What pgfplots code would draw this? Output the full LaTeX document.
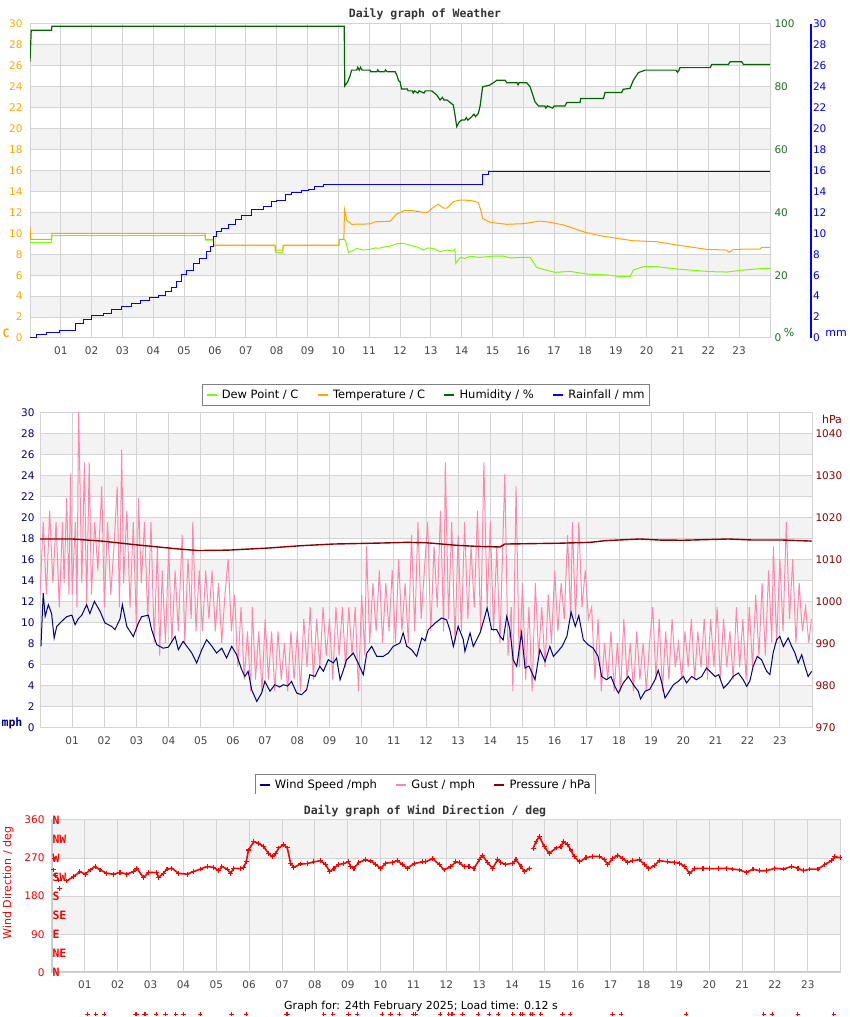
\documentclass[border=0pt]{standalone}
\usepackage{fontspec}
\setmainfont{DejaVu Sans}
\newfontfamily\titlefont{DejaVu Sans Mono}
\usepackage{pgfplots}
\pgfplotsset{compat=1.18}
\definecolor{tempc}{HTML}{FFA500}
\definecolor{dewc}{HTML}{7CFC00}
\definecolor{humc}{HTML}{006400}
\definecolor{humt}{HTML}{1E6E1E}
\definecolor{rainc}{HTML}{0000FF}
\definecolor{windc}{HTML}{000080}
\definecolor{gustc}{HTML}{FF88AA}
\definecolor{presc}{HTML}{8B0000}
\definecolor{dirc}{HTML}{FF0000}
\definecolor{band}{HTML}{F3F3F3}
\definecolor{gridc}{HTML}{D3D3D3}
\definecolor{edgec}{HTML}{C8C8C8}
\definecolor{ticktxt}{HTML}{444444}
\definecolor{titlec}{HTML}{333333}
\pgfplotsset{
  base/.style={scale only axis, anchor=south west, xmin=0, xmax=24,
    /pgf/number format/assume math mode=true,
    /pgf/number format/1000 sep={},
    tick label style={font=\fontsize{10.5}{12}\selectfont},
    major tick length=0pt},
  bg/.style={base, axis on top, grid=major, grid style={gridc, line width=1pt},
    axis line style={gridc, line width=1pt},
    xtick={1,...,23},
    xticklabels={01,02,03,04,05,06,07,08,09,10,11,12,13,14,15,16,17,18,19,20,21,22,23},
    xticklabel style={text=ticktxt, yshift=-5pt}},
  lg/.style={legend columns=-1, legend cell align=left,
    legend style={draw=gray, line width=0.8pt, fill=white, inner xsep=3pt, inner ysep=3pt,
      font=\fontsize{11.5}{13}\selectfont,
      /tikz/every odd column/.append style={column sep=2pt},
      /tikz/every even column/.append style={column sep=16pt}},
    legend image code/.code={\draw[##1, line width=2.5pt] (0pt,0pt) -- (10pt,0pt);}}
}
\begin{document}
\begin{tikzpicture}[x=1pt,y=1pt]
\path[use as bounding box] (0,0) rectangle (850,1017);
% titles and free text
\node[font=\titlefont\bfseries\fontsize{11.5}{13}\selectfont, text=titlec, anchor=base] at (425,999.5) {Daily graph of Weather};
\node[font=\titlefont\bfseries\fontsize{11.5}{13}\selectfont, text=titlec, anchor=base] at (425,202.7) {Daily graph of Wind Direction / deg};
\node[font=\fontsize{11}{13}\selectfont, anchor=base] at (421,8) {Graph for: 24th February 2025; Load time: 0.12 s};
\node[font=\titlefont\bfseries\fontsize{11.5}{13}\selectfont, text=tempc] at (6,684) {C};
\node[font=\fontsize{11}{13}\selectfont, text=humt] at (789,684) {\%};
\node[font=\fontsize{11}{13}\selectfont, text=rainc, anchor=base] at (836,680) {mm};
\node[font=\titlefont\bfseries\fontsize{11.5}{13}\selectfont, text=windc] at (12,294) {mph};
\node[font=\fontsize{11}{13}\selectfont, text=presc] at (832,598) {hPa};

% ================= PANEL 1 =================
\begin{axis}[bg, at={(30pt,679pt)}, width=740pt, height=314pt, ymin=0, ymax=30,
  ytick={0,2,...,30}, yticklabel style={text=tempc, xshift=-4pt}]
\fill[band] (axis cs:0,2) rectangle (axis cs:24,4);
\fill[band] (axis cs:0,6) rectangle (axis cs:24,8);
\fill[band] (axis cs:0,10) rectangle (axis cs:24,12);
\fill[band] (axis cs:0,14) rectangle (axis cs:24,16);
\fill[band] (axis cs:0,18) rectangle (axis cs:24,20);
\fill[band] (axis cs:0,22) rectangle (axis cs:24,24);
\fill[band] (axis cs:0,26) rectangle (axis cs:24,28);
\draw[edgec, line width=2.5pt] (rel axis cs:0,0) -- (rel axis cs:0,1);
\draw[edgec, line width=2pt] (rel axis cs:0,0) -- (rel axis cs:1,0);
\end{axis}
\begin{axis}[base, hide axis, at={(30pt,679pt)}, width=740pt, height=314pt, ymin=0, ymax=30]
\addplot[dewc, line width=1pt] coordinates {(0,9.1) (0.70,9.1) (0.71,9.77) (5.68,9.77) (5.69,9.36) (5.95,9.36) (5.96,8.82) (7.95,8.82) (7.96,8.18) (8.20,8.18) (8.21,8.82) (10.02,8.82) (10.03,9.43) (10.20,9.43) (10.24,9.2) (10.33,8.18) (10.43,8.3) (10.6,8.56) (10.8,8.4) (11.03,8.47) (11.2,8.6) (11.35,8.59) (11.5,8.7) (11.68,8.78) (11.89,9.0) (12.11,9.05) (12.33,8.85) (12.55,8.7) (12.76,8.4) (12.9,8.6) (13.08,8.56) (13.3,8.24) (13.5,8.4) (13.73,8.3) (13.78,8.5) (13.81,7.13) (13.95,7.7) (14.1,7.6) (14.27,7.8) (14.6,7.7) (15.03,7.82) (15.35,7.82) (15.6,7.65) (16.0,7.7) (16.22,7.7) (16.43,6.75) (16.65,6.56) (17.03,6.27) (17.51,6.37) (18.06,6.11) (18.71,6.02) (19.14,5.86) (19.46,5.86) (19.57,6.5) (19.89,6.81) (20.33,6.81) (20.98,6.59) (22.06,6.34) (22.6,6.3) (23.14,6.5) (23.79,6.65) (24,6.65)};
\addplot[tempc, line width=1pt] coordinates {(0,10.6) (0.02,9.43) (0.70,9.43) (0.71,10.0) (5.68,10.0) (5.69,9.43) (5.95,9.43) (5.96,8.88) (7.95,8.88) (7.96,8.4) (8.20,8.4) (8.21,8.88) (10.02,8.88) (10.03,9.43) (10.18,9.43) (10.20,12.29) (10.27,11.27) (10.43,10.86) (11.03,10.9) (11.19,11.1) (11.68,11.15) (11.89,11.84) (12.16,12.2) (12.33,12.2) (12.54,12.1) (12.87,11.97) (13.08,12.48) (13.24,12.77) (13.41,12.4) (13.52,12.4) (13.73,13.02) (13.95,13.18) (14.27,13.15) (14.54,12.96) (14.62,12.2) (14.68,11.43) (14.92,11.05) (15.46,10.86) (16.0,10.92) (16.54,11.17) (16.87,11.05) (17.3,10.8) (17.62,10.48) (18.0,10.1) (18.38,9.84) (19.03,9.52) (19.57,9.29) (20.33,9.2) (20.98,8.88) (21.95,8.47) (22.6,8.4) (22.67,8.18) (22.81,8.47) (23.68,8.5) (23.73,8.66) (24,8.66)};
\end{axis}
\begin{axis}[base, hide axis, at={(30pt,679pt)}, width=740pt, height=314pt, ymin=0, ymax=100]
\addplot[humc, line width=1.2pt] coordinates {(0,88) (0.04,98) (0.70,98) (0.71,99.3) (10.19,99.3) (10.21,80.3) (10.30,81.5) (10.38,83.5) (10.43,85.3) (10.60,85.3) (10.63,86.2) (10.68,85.3) (10.72,86.2) (10.77,85.3) (11.03,85.3) (11.05,84.8) (11.25,84.8) (11.28,85.4) (11.32,84.8) (11.50,84.8) (11.53,85.4) (11.58,84.8) (11.84,84.8) (11.90,83.7) (11.95,82.0) (12.00,81.6) (12.05,79.3) (12.24,79.3) (12.26,78.7) (12.40,78.7) (12.43,78.0) (12.47,78.7) (12.58,78.0) (12.62,78.7) (12.78,78.0) (12.82,78.7) (13.03,78.7) (13.19,77.4) (13.30,75.8) (13.38,76.6) (13.42,75.8) (13.52,75.8) (13.73,74.2) (13.80,70.0) (13.84,67.3) (13.92,68.8) (14.00,69.4) (14.10,69.4) (14.15,70.2) (14.20,69.4) (14.33,70.5) (14.40,71.3) (14.45,70.5) (14.54,71.5) (14.60,74.0) (14.68,80.0) (14.90,80.5) (15.08,81.6) (15.14,82.1) (15.41,82.1) (15.46,81.3) (15.80,81.3) (15.83,80.6) (15.86,81.3) (16.11,81.3) (16.22,80.0) (16.38,75.2) (16.49,73.9) (16.70,73.9) (16.73,73.2) (16.78,73.9) (16.95,73.2) (17.00,73.9) (17.35,73.9) (17.41,75.0) (17.84,75.0) (17.86,76.3) (18.60,76.3) (18.65,78.2) (19.19,78.2) (19.24,79.2) (19.46,79.5) (19.57,82.1) (19.73,84.5) (19.95,85.3) (20.95,85.3) (21.00,84.6) (21.05,85.3) (21.08,86.1) (22.06,86.1) (22.11,87.1) (22.65,87.1) (22.71,88.0) (23.08,88.0) (23.14,87.1) (24,87.1)};
\end{axis}
\begin{axis}[base, hide axis, at={(30pt,679pt)}, width=740pt, height=314pt, ymin=0, ymax=30]
\addplot[rainc, line width=1pt, const plot] coordinates {(0,0.07) (0.22,0.29) (0.54,0.54) (0.97,0.76) (1.46,1.4) (1.73,1.72) (2.0,2.13) (2.38,2.35) (2.65,2.74) (2.97,2.99) (3.3,3.31) (3.57,3.56) (3.89,3.88) (4.16,4.04) (4.38,4.43) (4.6,4.84) (4.76,5.38) (4.92,6.02) (5.08,6.49) (5.3,7.13) (5.51,7.61) (5.73,8.24) (5.84,8.72) (5.95,9.68) (6.06,10.16) (6.22,10.48) (6.43,10.89) (6.65,11.34) (6.87,11.75) (7.19,12.23) (7.57,12.54) (7.84,13.02) (8.0,13.18) (8.29,13.72) (8.49,13.91) (8.81,14.07) (9.03,14.23) (9.24,14.45) (9.51,14.68) (14.6,14.68) (14.68,15.66) (14.87,15.93) (24,15.93)};
\end{axis}
% humidity labels
\begin{axis}[base, at={(30pt,679pt)}, width=740pt, height=314pt, ymin=0, ymax=100,
  hide x axis, axis y line*=right, y axis line style={draw=none},
  ytick={0,20,...,100}, yticklabel style={text=humt, xshift=1pt}]
\addplot[draw=none] coordinates {(0,0)};
\end{axis}
% rainfall labels + legend 1
\begin{axis}[base, lg, at={(30pt,679pt)}, width=781pt, height=314pt, ymin=0, ymax=30,
  hide x axis, axis y line*=right, y axis line style={rainc, line width=1.2pt},
  ytick={0,2,...,30}, yticklabel style={text=rainc, xshift=-1.5pt},
  legend style={at={(axis description cs:0.507,-0.1815)}, anchor=center}]
\addlegendimage{dewc}\addlegendentry{Dew Point / C}
\addlegendimage{tempc}\addlegendentry{Temperature / C}
\addlegendimage{humc}\addlegendentry{Humidity / \%}
\addlegendimage{rainc}\addlegendentry{Rainfall / mm}
\end{axis}

% ================= PANEL 2 =================
\begin{axis}[bg, at={(40pt,289pt)}, width=772pt, height=315pt, ymin=0, ymax=30,
  ytick={0,2,...,30}, yticklabel style={text=windc, xshift=-2pt}]
\fill[band] (axis cs:0,2) rectangle (axis cs:24,4);
\fill[band] (axis cs:0,6) rectangle (axis cs:24,8);
\fill[band] (axis cs:0,10) rectangle (axis cs:24,12);
\fill[band] (axis cs:0,14) rectangle (axis cs:24,16);
\fill[band] (axis cs:0,18) rectangle (axis cs:24,20);
\fill[band] (axis cs:0,22) rectangle (axis cs:24,24);
\fill[band] (axis cs:0,26) rectangle (axis cs:24,28);
\draw[edgec, line width=2.5pt] (rel axis cs:0,0) -- (rel axis cs:0,1);
\draw[edgec, line width=2pt] (rel axis cs:0,0) -- (rel axis cs:1,0);
\end{axis}
\begin{axis}[base, hide axis, at={(40pt,289pt)}, width=772pt, height=315pt, ymin=0, ymax=30]
\addplot[gustc, line width=1pt] coordinates {(0.0,12.7) (0.1,19.6) (0.2,12.7) (0.3,20.7) (0.4,13.8) (0.5,19.6) (0.6,11.5) (0.7,19.6) (0.75,13.8) (0.83,21.9) (0.9,12.7) (0.95,24.2) (1.0,12.7) (1.1,19.6) (1.15,11.5) (1.2,30.5) (1.3,13.8) (1.38,25.3) (1.45,11.5) (1.53,25.3) (1.6,12.7) (1.7,19.6) (1.8,15.0) (1.92,23.0) (2.0,11.5) (2.1,19.6) (2.2,12.7) (2.3,17.3) (2.4,23.0) (2.47,11.5) (2.54,26.5) (2.6,13.8) (2.7,20.7) (2.8,11.5) (2.9,19.6) (3.0,9.2) (3.06,21.9) (3.15,13.8) (3.25,19.6) (3.35,10.4) (3.45,19.6) (3.55,8.1) (3.65,17.3) (3.72,6.9) (3.8,15.0) (3.9,8.1) (4.0,17.3) (4.1,8.1) (4.2,15.0) (4.3,9.2) (4.42,18.4) (4.5,8.1) (4.6,16.1) (4.7,10.4) (4.75,19.6) (4.85,9.2) (4.95,15.0) (5.05,9.2) (5.15,15.0) (5.25,10.4) (5.35,15.0) (5.45,9.2) (5.55,13.8) (5.65,8.1) (5.75,12.7) (5.85,16.1) (5.95,9.2) (6.05,12.7) (6.15,5.8) (6.25,11.5) (6.35,4.6) (6.45,9.2) (6.55,3.5) (6.6,11.5) (6.7,4.6) (6.8,9.2) (6.9,3.5) (7.0,10.4) (7.1,4.6) (7.2,9.2) (7.3,3.5) (7.4,9.2) (7.5,4.6) (7.6,8.1) (7.7,3.5) (7.8,9.2) (7.9,4.6) (8.0,9.2) (8.1,3.5) (8.2,10.4) (8.3,5.8) (8.4,11.5) (8.5,4.6) (8.6,10.4) (8.7,5.8) (8.8,11.5) (8.9,6.9) (9.0,10.4) (9.1,4.6) (9.2,11.5) (9.3,6.9) (9.4,11.5) (9.5,5.8) (9.6,11.5) (9.7,6.9) (9.8,11.5) (9.9,3.5) (10.0,12.7) (10.1,6.9) (10.15,17.3) (10.25,8.1) (10.35,13.8) (10.45,9.2) (10.55,15.0) (10.65,8.1) (10.75,13.8) (10.85,9.2) (10.95,15.0) (11.05,8.1) (11.15,16.1) (11.25,9.2) (11.35,13.8) (11.45,8.1) (11.55,18.4) (11.65,9.2) (11.75,19.6) (11.85,10.4) (11.95,15.0) (12.05,19.6) (12.15,9.2) (12.25,17.3) (12.35,11.5) (12.45,20.7) (12.55,9.2) (12.6,25.3) (12.7,10.4) (12.8,19.6) (12.9,8.1) (13.0,18.4) (13.1,9.2) (13.2,19.6) (13.3,10.4) (13.4,17.3) (13.5,11.5) (13.6,20.7) (13.7,9.2) (13.8,25.3) (13.9,11.5) (14.0,19.6) (14.1,9.2) (14.2,17.3) (14.3,8.1) (14.45,24.2) (14.55,6.9) (14.65,11.5) (14.7,3.5) (14.8,23.0) (14.9,5.8) (15.0,13.8) (15.1,4.6) (15.2,11.5) (15.3,3.5) (15.4,13.8) (15.5,6.9) (15.6,11.5) (15.7,5.8) (15.8,12.7) (15.9,8.1) (16.0,15.0) (16.1,9.2) (16.2,13.8) (16.3,10.4) (16.4,18.4) (16.5,10.4) (16.55,19.6) (16.65,10.4) (16.75,19.6) (16.85,11.5) (16.95,15.0) (17.05,10.4) (17.15,11.5) (17.25,4.6) (17.35,10.4) (17.45,3.5) (17.55,8.1) (17.65,4.6) (17.75,9.2) (17.85,3.5) (17.95,8.1) (18.05,3.5) (18.15,10.4) (18.25,4.6) (18.35,8.1) (18.45,3.5) (18.55,9.2) (18.65,4.6) (18.75,8.1) (18.85,3.5) (18.95,8.1) (19.05,11.5) (19.15,4.6) (19.25,10.4) (19.35,3.5) (19.45,9.2) (19.55,4.6) (19.65,10.4) (19.75,5.8) (19.85,8.1) (19.95,4.6) (20.05,9.2) (20.15,5.8) (20.25,10.4) (20.35,4.6) (20.45,9.2) (20.55,5.8) (20.65,10.4) (20.75,4.6) (20.85,10.4) (20.95,5.8) (21.05,11.5) (21.15,4.6) (21.25,10.4) (21.35,5.8) (21.45,9.2) (21.55,4.6) (21.65,11.5) (21.75,5.8) (21.85,10.4) (21.95,4.6) (22.05,11.5) (22.15,5.8) (22.25,12.7) (22.35,6.9) (22.45,13.8) (22.55,6.9) (22.65,15.0) (22.75,8.1) (22.8,17.3) (22.9,8.1) (23.0,16.1) (23.1,9.2) (23.2,19.6) (23.3,10.4) (23.4,16.1) (23.5,8.1) (23.6,13.8) (23.7,9.2) (23.8,11.5) (23.9,8.1) (23.98,10.4)};
\addplot[windc, line width=1pt] coordinates {(0.03,7.77) (0.10,12.86) (0.16,10.63) (0.26,11.74) (0.36,10.9) (0.44,8.57) (0.52,9.67) (0.67,10.15) (0.83,10.6) (0.99,10.75) (1.09,9.84) (1.19,10.4) (1.30,10.75) (1.45,11.74) (1.55,10.9) (1.69,12.06) (1.87,11.1) (2.02,10.0) (2.23,9.67) (2.33,9.36) (2.49,10.4) (2.56,11.74) (2.70,9.67) (2.90,8.72) (3.06,10.0) (3.16,10.6) (3.37,10.75) (3.47,9.36) (3.63,7.93) (3.83,7.6) (3.99,7.7) (4.20,8.72) (4.30,7.46) (4.45,8.25) (4.72,7.14) (4.87,6.19) (5.03,7.46) (5.18,8.41) (5.34,7.8) (5.49,7.14) (5.65,7.6) (5.80,6.67) (5.96,7.77) (6.11,7.0) (6.27,5.55) (6.37,4.91) (6.47,5.4) (6.58,3.65) (6.74,2.53) (6.89,3.33) (6.99,4.44) (7.15,3.5) (7.30,4.12) (7.45,3.9) (7.56,4.12) (7.70,4.0) (7.82,4.44) (7.98,3.33) (8.13,3.17) (8.29,3.65) (8.39,5.08) (8.55,4.9) (8.70,5.87) (8.81,5.4) (8.96,6.5) (9.12,6.2) (9.22,6.66) (9.33,4.6) (9.43,5.5) (9.53,6.5) (9.74,7.14) (9.89,6.18) (10.05,5.08) (10.16,7.14) (10.31,7.77) (10.47,6.82) (10.67,6.82) (10.83,7.14) (10.98,7.77) (11.19,8.1) (11.29,9.05) (11.40,7.8) (11.55,7.46) (11.71,6.82) (11.87,8.57) (11.97,8.3) (12.07,9.36) (12.28,9.99) (12.49,10.48) (12.64,10.3) (12.74,9.36) (12.85,7.77) (13.0,9.68) (13.16,8.41) (13.21,7.3) (13.37,9.05) (13.47,7.77) (13.68,9.05) (13.83,10.63) (13.90,11.43) (14.04,9.36) (14.20,9.36) (14.30,8.73) (14.40,8.4) (14.51,10.63) (14.61,9.36) (14.71,6.5) (14.82,5.87) (14.97,9.05) (15.08,5.71) (15.2,5.9) (15.39,4.6) (15.54,7.46) (15.70,6.34) (15.85,7.77) (15.96,6.82) (16.1,7.3) (16.23,7.77) (16.38,8.72) (16.51,11.04) (16.64,9.68) (16.75,10.7) (16.89,8.41) (17.04,7.93) (17.20,7.6) (17.35,6.82) (17.46,4.91) (17.61,4.6) (17.75,4.9) (17.87,3.97) (17.98,3.33) (18.13,4.28) (18.29,4.91) (18.45,4.1) (18.60,3.5) (18.67,2.76) (18.81,3.49) (18.96,3.7) (19.12,4.6) (19.22,5.49) (19.33,4.3) (19.43,2.86) (19.53,3.33) (19.69,4.12) (19.84,4.44) (20.0,4.91) (20.10,4.3) (20.26,4.91) (20.41,4.6) (20.57,4.91) (20.72,5.71) (20.88,5.24) (20.99,4.9) (21.1,5.08) (21.25,3.8) (21.41,4.3) (21.55,4.91) (21.71,5.24) (21.86,4.6) (21.97,3.97) (22.07,4.5) (22.17,5.87) (22.30,6.82) (22.43,6.5) (22.59,5.4) (22.69,5.08) (22.79,7.14) (22.90,8.41) (23.0,8.73) (23.11,7.77) (23.26,8.57) (23.37,7.77) (23.47,7.14) (23.57,6.18) (23.68,6.98) (23.78,5.87) (23.88,4.91) (23.99,5.4)};
\end{axis}
% pressure axis + legend 2
\begin{axis}[base, lg, at={(40pt,289pt)}, width=772pt, height=315pt, ymin=970, ymax=1045,
  hide x axis, axis y line*=right, y axis line style={draw=none},
  ytick={970,980,...,1040}, yticklabel style={text=presc, xshift=0pt},
  legend style={at={(axis description cs:0.4994,-0.181)}, anchor=center},
  legend entries={Wind Speed /mph, Gust / mph, Pressure / hPa}]
\addlegendimage{windc}
\addlegendimage{gustc}
\addplot[presc, line width=1.4pt] coordinates {(0,1015.0) (1.0,1015.0) (1.92,1014.5) (2.95,1013.65) (4.2,1012.7) (4.9,1012.25) (5.85,1012.35) (7.1,1012.85) (8.1,1013.4) (9.12,1013.8) (10.67,1014.05) (11.4,1014.2) (12.02,1014.1) (12.95,1013.5) (13.57,1013.25) (14.3,1013.1) (14.45,1013.8) (16.16,1014.0) (17.1,1014.2) (17.56,1014.6) (18.65,1015.0) (19.27,1014.75) (20.0,1014.7) (21.4,1015.0) (22.17,1014.75) (23.1,1014.75) (23.99,1014.5)};
\end{axis}
\fill[white] (240,219.5) rectangle (610,223);

% ================= PANEL 3 =================
\begin{axis}[bg, at={(52pt,44.7pt)}, width=788.7pt, height=152.3pt, ymin=0, ymax=360,
  ytick={0,90,180,270,360}, yticklabel style={text=dirc, xshift=-4pt},
  ylabel={Wind Direction / deg},
  every axis y label/.style={at={(axis description cs:-0.0558,0.586)}, rotate=90, anchor=center, font=\fontsize{11}{13}\selectfont, text=dirc}]
\fill[band] (axis cs:0,90) rectangle (axis cs:24,180);
\fill[band] (axis cs:0,270) rectangle (axis cs:24,360);
\draw[edgec, line width=2.5pt] (rel axis cs:0,0) -- (rel axis cs:0,1);
\draw[edgec, line width=2pt] (rel axis cs:0,0) -- (rel axis cs:1,0);
\end{axis}
\begin{axis}[base, hide axis, clip=false, at={(52pt,44.7pt)}, width=788.7pt, height=152.3pt, ymin=0, ymax=360]
\addplot[dirc, only marks, mark=+, mark size=2.4pt, line width=1.1pt] coordinates {(0.04,242) (0.06,268) (0.1,228) (0.19,218) (0.22,199)};
\addplot[dirc, line width=1.6pt, mark=+, mark size=2.4pt, mark options={line width=1.1pt}] coordinates {(0.45,216) (0.65,226) (0.85,238) (1.01,232) (1.16,242) (1.31,250) (1.46,242) (1.67,234) (1.87,232) (2.07,236) (2.28,232) (2.48,238) (2.58,246) (2.78,224) (2.94,236) (3.19,236) (3.24,224) (3.39,234) (3.5,244) (3.65,246) (3.85,234) (4.11,232) (4.31,238) (4.51,244) (4.72,250) (4.92,248) (5.07,240) (5.17,250) (5.33,244) (5.43,234) (5.53,246) (5.73,245) (5.83,248) (5.91,261) (5.98,289) (6.14,309) (6.29,305) (6.44,297) (6.59,281) (6.70,273) (6.80,280) (6.90,294) (7.05,302) (7.16,294) (7.26,258) (7.36,248) (7.56,256) (7.77,257) (7.97,261) (8.17,264) (8.32,255) (8.45,238) (8.58,246) (8.73,255) (8.88,257) (9.02,261) (9.09,250) (9.19,246) (9.34,260) (9.54,266) (9.70,263) (9.85,255) (10.0,245) (10.15,258) (10.36,260) (10.51,264) (10.66,255) (10.81,246) (11.02,257) (11.27,261) (11.37,261) (11.58,269) (11.78,255) (11.93,242) (12.13,250) (12.29,261) (12.39,259) (12.54,250) (12.69,250) (12.84,245) (13.0,266) (13.1,277) (13.25,259) (13.41,246) (13.56,266) (13.66,259) (13.81,255) (14.02,258) (14.12,266) (14.27,250) (14.37,238) (14.52,246)};
\addplot[dirc, line width=1.6pt, mark=+, mark size=2.4pt, mark options={line width=1.1pt}] coordinates {(14.64,293) (14.73,309) (14.83,321) (14.98,297) (15.13,281) (15.34,294) (15.49,297) (15.56,309) (15.69,302) (15.79,289) (15.89,273) (16.05,261) (16.25,271) (16.45,274) (16.66,274) (16.81,266) (16.91,255) (17.06,269) (17.22,277) (17.37,269) (17.52,260) (17.67,264) (17.87,266) (18.03,255) (18.16,245) (18.33,252) (18.48,264) (18.74,261) (18.94,260) (19.09,258) (19.25,250) (19.40,234) (19.55,245) (19.81,246) (20.01,245) (20.27,245) (20.52,246) (20.72,244) (20.92,242) (21.13,236) (21.33,244) (21.53,240) (21.74,240) (21.99,246) (22.25,244) (22.5,250) (22.70,246) (22.86,240) (23.06,244) (23.31,244) (23.52,255) (23.72,264) (23.82,273) (23.98,271)};
\addplot[dirc, only marks, mark=+, mark size=2.2pt, line width=1pt] coordinates {(1.08,-99) (1.33,-99) (1.59,-99) (2.53,-99) (2.58,-99) (2.80,-99) (2.86,-99) (3.17,-99) (3.45,-99) (3.77,-99) (4.00,-99) (4.51,-99) (5.46,-99) (5.91,-99) (7.13,-99) (7.17,-99) (8.27,-99) (8.55,-99) (9.02,-99) (9.29,-99) (10.05,-99) (10.30,-99) (10.56,-99) (11.00,-99) (11.07,-99) (11.81,-99) (12.08,-99) (12.16,-99) (12.20,-99) (12.49,-99) (12.97,-99) (13.30,-99) (13.58,-99) (14.02,-99) (14.27,-99) (14.32,-99) (14.57,-99) (14.63,-99) (14.88,-99) (15.54,-99) (15.77,-99) (17.06,-99) (17.32,-99) (19.30,-99) (21.66,-99) (21.91,-99) (22.70,-99) (23.79,-99)};
\end{axis}
% compass labels
\begin{axis}[base, at={(52pt,44.7pt)}, width=788.7pt, height=152.3pt, ymin=0, ymax=360,
  hide x axis, axis y line*=left, y axis line style={draw=none},
  ytick={0,45,...,360}, yticklabels={N,NE,E,SE,S,SW,W,NW,N},
  yticklabel style={anchor=west, xshift=-3pt, text=dirc, font=\titlefont\bfseries\fontsize{11.5}{13}\selectfont}]
\addplot[draw=none] coordinates {(0,0)};
\end{axis}
\end{tikzpicture}
\end{document}
